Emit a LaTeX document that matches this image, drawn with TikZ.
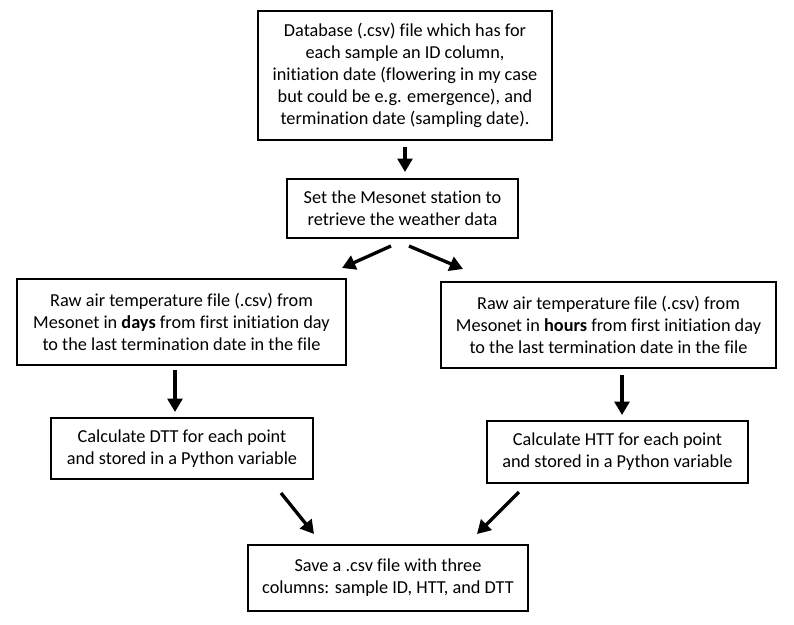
\documentclass[tikz,border=0pt]{standalone}
\usepackage{fontspec}
\setmainfont[Ligatures=NoCommon]{Carlito}
\usetikzlibrary{arrows.meta}
\begin{document}
\begin{tikzpicture}[x=0.75pt,y=-0.75pt,
  box/.style={draw, line width=1pt, align=center, inner sep=0pt, font=\fontsize{13.7}{16.5}\selectfont},
  arr/.style={line width=2.5pt, -{Triangle[length=10pt,width=11pt]}}]
\useasboundingbox (0,0) rectangle (794,625);
\node[box, minimum width=220.5pt, minimum height=96.75pt] (db) at (405,75.5)
  {Database (.csv) file which has for\\each sample an ID column,\\initiation date (flowering in my case\\but could be e.g. emergence), and\\termination date (sampling date).};
\node[box, minimum width=173.25pt, minimum height=44.25pt] (meso) at (402.5,208.5)
  {Set the Mesonet station to\\retrieve the weather data};
\node[box, minimum width=246.75pt, minimum height=64.5pt] (rawd) at (181.5,322)
  {Raw air temperature file (.csv) from\\Mesonet in \textbf{days} from first initiation day\\to the last termination date in the file};
\node[box, minimum width=251.25pt, minimum height=64.5pt] (rawh) at (608.5,325)
  {Raw air temperature file (.csv) from\\Mesonet in \textbf{hours} from first initiation day\\to the last termination date in the file};
\node[box, minimum width=196.5pt, minimum height=45.75pt] (dtt) at (182,448.5)
  {Calculate DTT for each point\\and stored in a Python variable};
\node[box, minimum width=195.75pt, minimum height=46.5pt] (htt) at (617.5,452)
  {Calculate HTT for each point\\and stored in a Python variable};
\node[box, minimum width=210pt, minimum height=49.5pt] (save) at (388,578)
  {Save a .csv file with three\\columns: sample ID, HTT, and DTT};
\coordinate (a1s) at (405,147); \coordinate (a1e) at (405,172);
\coordinate (a2s) at (391,246); \coordinate (a2e) at (342,268);
\coordinate (a3s) at (409,246); \coordinate (a3e) at (463,269);
\coordinate (a4s) at (175,370); \coordinate (a4e) at (175,412);
\coordinate (a5s) at (622,375); \coordinate (a5e) at (622,415);
\coordinate (a6s) at (281,493); \coordinate (a6e) at (314,534);
\coordinate (a7s) at (519,492); \coordinate (a7e) at (477,534);
\draw[arr] (a1s) -- (a1e);
\draw[arr] (a2s) -- (a2e);
\draw[arr] (a3s) -- (a3e);
\draw[arr] (a4s) -- (a4e);
\draw[arr] (a5s) -- (a5e);
\draw[arr] (a6s) -- (a6e);
\draw[arr] (a7s) -- (a7e);
\end{tikzpicture}
\end{document}
